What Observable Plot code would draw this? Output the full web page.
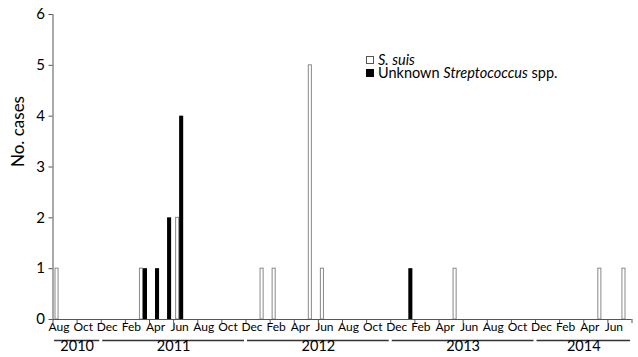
<!DOCTYPE html>
<html>
<head>
<meta charset="utf-8">
<script src="https://cdn.jsdelivr.net/npm/d3@7"></script>
<script src="https://cdn.jsdelivr.net/npm/@observablehq/plot@0.6"></script>
<style>
  body { margin: 0; background: #fff; }
  #wrap { position: relative; width: 638px; height: 357px; font-family: Lato, "Open Sans", sans-serif; }
  #legend { position: absolute; left: 366px; top: 53px; font-size: 14.5px; color: #000; }
  #legend div { display: flex; align-items: center; height: 13px; white-space: nowrap; }
  #legend svg { flex: none; margin-right: 4px; }
</style>
</head>
<body>
<div id="wrap">
  <div id="legend">
    <div><svg width="8" height="8"><rect x="0.5" y="0.5" width="7" height="7" fill="#fff" stroke="#555"/></svg><i>S. suis</i></div>
    <div><svg width="8" height="8"><rect x="0" y="0" width="8" height="8" fill="#000"/></svg>Unknown&nbsp;<i>Streptococcus</i>&nbsp;spp.</div>
  </div>
</div>
<script>
// Monthly counts, Aug 2010 .. Jul 2014 (48 months)
const monthIndex = d3.range(48);
const sSuis = [
  1,0,0,0,0,                 // 2010 Aug-Dec
  0,0,1,0,0,2,0,0,0,0,0,0,   // 2011
  1,1,0,0,5,1,0,0,0,0,0,0,   // 2012
  0,0,0,0,1,0,0,0,0,0,0,0,   // 2013
  0,0,0,0,1,0,1              // 2014 Jan-Jul
];
const unknownStrep = [
  0,0,0,0,0,
  0,0,1,1,2,4,0,0,0,0,0,0,
  0,0,0,0,0,0,0,0,0,0,0,0,
  1,0,0,0,0,0,0,0,0,0,0,0,
  0,0,0,0,0,0,0
];
const monthLabels = ["Aug","Oct","Dec","Feb","Apr","Jun","Aug","Oct","Dec","Feb","Apr","Jun",
                     "Aug","Oct","Dec","Feb","Apr","Jun","Aug","Oct","Dec","Feb","Apr","Jun"];
const yearLabels = ["2010","2011","2012","2013","2014"];
const yearStart = [0, 4, 16, 28, 40];
const yearEnd = [4, 16, 28, 40, 48];

const rowsS = monthIndex.map(i => ({i, v: sSuis[i]})).filter(d => d.v > 0);
const rowsU = monthIndex.map(i => ({i, v: unknownStrep[i]})).filter(d => d.v > 0);
const labelRows = monthLabels.map((m, k) => ({x: 2 * k + 0.5, m}));
const years = yearLabels.map((y, k) => ({y, a: yearStart[k], b: yearEnd[k]}));

const axisColor = "#555";
const chart = Plot.plot({
  width: 638,
  height: 357,
  marginLeft: 52.5,
  marginRight: 6.5,
  marginTop: 14,
  marginBottom: 38,
  style: {fontFamily: "Lato, 'Open Sans', sans-serif", background: "#fff"},
  x: {type: "linear", domain: [0, 48]},
  y: {domain: [0, 6]},
  marks: [
    Plot.rectY(rowsS, {x1: "i", x2: d => d.i + 1, y: "v", fill: "#fff", stroke: "#888", strokeWidth: 1, insetLeft: 2.5, insetRight: 6.5}),
    Plot.rectY(rowsU, {x1: "i", x2: d => d.i + 1, y: "v", fill: "#000", insetLeft: 6, insetRight: 2}),
    Plot.axisY({ticks: d3.range(0, 7), tickFormat: "d", tickSize: 4, tickPadding: 4, fontSize: 15, label: null, stroke: axisColor, color: "#000"}),
    Plot.ruleX([0], {stroke: axisColor}),
    Plot.ruleY([0], {stroke: axisColor}),
    Plot.axisX({ticks: d3.range(0, 49, 2), tickSize: 4, tickFormat: () => "", label: null, stroke: axisColor}),
    Plot.text(labelRows, {x: "x", text: "m", frameAnchor: "bottom", dy: 11, fontSize: 12, fill: "#000"}),
    Plot.ruleY(years, {y: () => 0, x1: "a", x2: "b", dy: 21, stroke: "#333", strokeWidth: 1.3, insetLeft: 1.5, insetRight: 1.5}),
    Plot.text(years, {x: d => (d.a + d.b) / 2, text: "y", frameAnchor: "bottom", dy: 31.5, fontSize: 14.5, fill: "#000"}),
    Plot.text(["No. cases"], {frameAnchor: "left", rotate: -90, dx: -34, fontSize: 17, fill: "#000"})
  ]
});
document.getElementById("wrap").prepend(chart);
</script>
</body>
</html>
